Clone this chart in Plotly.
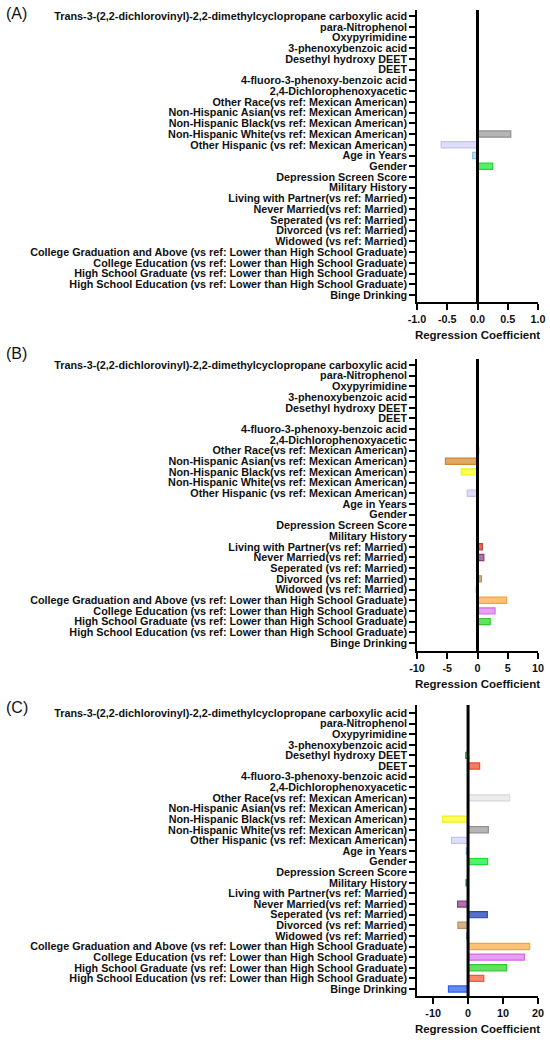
import plotly.graph_objects as go

# categories, top to bottom
categories = [
    "Trans-3-(2,2-dichlorovinyl)-2,2-dimethylcyclopropane carboxylic acid",
    "para-Nitrophenol",
    "Oxypyrimidine",
    "3-phenoxybenzoic acid",
    "Desethyl hydroxy DEET",
    "DEET",
    "4-fluoro-3-phenoxy-benzoic acid",
    "2,4-Dichlorophenoxyacetic",
    "Other Race(vs ref: Mexican American)",
    "Non-Hispanic Asian(vs ref: Mexican American)",
    "Non-Hispanic Black(vs ref: Mexican American)",
    "Non-Hispanic White(vs ref: Mexican American)",
    "Other Hispanic (vs ref: Mexican American)",
    "Age in Years",
    "Gender",
    "Depression Screen Score",
    "Military History",
    "Living with Partner(vs ref: Married)",
    "Never Married(vs ref: Married)",
    "Seperated (vs ref: Married)",
    "Divorced (vs ref: Married)",
    "Widowed (vs ref: Married)",
    "College Graduation and Above (vs ref: Lower than High School Graduate)",
    "College Education (vs ref: Lower than High School Graduate)",
    "High School Graduate (vs ref: Lower than High School Graduate)",
    "High School Education (vs ref: Lower than High School Graduate)",
    "Binge Drinking",
]

# regression coefficients per panel (None = no visible bar)
coef_a = [None, None, None, None, None, None, None, None, None, None, None,
          0.55, -0.6, -0.08, 0.25, None, None, None, None, None, None, None,
          None, None, None, None, None]
coef_b = [None, None, None, None, None, 0.15, None, None, 0.25, -5.3, -2.7,
          None, -1.7, None, None, None, None, 0.8, 1.05, None, 0.65, -0.2,
          4.8, 2.9, 2.1, None, None]
coef_c = [None, None, None, None, -0.7, 3.3, None, None, 11.9, None, -7.3,
          5.8, -4.7, -0.5, 5.6, None, -0.6, None, -3.0, 5.5, -2.9, -0.4,
          17.6, 16.1, 11.0, 4.5, -5.6]

x_ticks_a = [-1.0, -0.5, 0.0, 0.5, 1.0]
x_ticks_b = [-10, -5, 0, 5, 10]
x_ticks_c = [-10, 0, 10, 20]

# bar colours per category (fill, edge)
fills = ["#000000", "#000000", "#000000", "#000000", "#5fd97a", "#f77a62",
         "#000000", "#000000", "#ececec", "#e0a966", "#ffff55", "#b5b5b5",
         "#dedefb", "#b5dcf7", "#55f065", "#000000", "#4cc07e", "#e86a62",
         "#b070a8", "#5570c8", "#d4b486", "#bbbbbb", "#ffc274", "#e79ef3",
         "#62e262", "#ff8472", "#6188f3"]
edges = ["#000000", "#000000", "#000000", "#000000", "#2fb54a", "#ee4a2e",
         "#000000", "#000000", "#d8d8d8", "#c98436", "#eeee22", "#909090",
         "#c2c2f0", "#88c0ee", "#22d833", "#000000", "#229955", "#d23a30",
         "#8a3c82", "#2c48a6", "#b8925a", "#999999", "#f5a340", "#d46ae6",
         "#33c833", "#f5553a", "#3060e6"]

W, H = 550, 1042
L, R = 417, 12
plot_w = W - L - R

# (label, values, ticks, x range, y domain in px top/bottom, y range, tick format, label y px)
panels = [
    ("(A)", coef_a, x_ticks_a, [-1.0, 1.0], (10, 302), [26.65, -0.56], "{:.1f}", 3),
    ("(B)", coef_b, x_ticks_b, [-10, 10], (359, 651), [26.75, -0.56], "{}", 343),
    ("(C)", coef_c, x_ticks_c, [-14.6, 20], (705, 996), [26.66, -0.75], "{}", 697),
]

font_lbl = dict(family="Liberation Sans", size=10.8, color="#111111")

fig = go.Figure()
layout = {}
for i, (tag, vals, ticks, xr, px, yr, fmt, tag_y) in enumerate(panels):
    n = "" if i == 0 else str(i + 1)
    dom = [1 - px[1] / H, 1 - px[0] / H]
    fig.add_trace(go.Bar(
        x=vals, y=categories, orientation="h",
        marker=dict(color=fills, line=dict(color=edges, width=1.2)),
        width=0.58, xaxis="x" + n, yaxis="y" + n, showlegend=False,
    ))
    layout["xaxis" + n] = dict(
        domain=[0, 1], range=xr, anchor="y" + n,
        tickvals=ticks, ticktext=["<b>" + fmt.format(t) + "</b>" for t in ticks],
        ticks="outside", ticklen=6, tickwidth=1.5, tickcolor="black",
        showline=True, linecolor="black", linewidth=1.5,
        showgrid=False, zeroline=False, tickfont=font_lbl,
        title=dict(text="<b>Regression Coefficient</b>",
                   font=dict(family="Liberation Sans", size=11.5, color="#111111"),
                   standoff=7),
    )
    layout["yaxis" + n] = dict(
        domain=dom, range=yr, anchor="x" + n,
        type="category", categoryorder="array", categoryarray=categories,
        tickvals=categories, ticktext=["<b>" + c + "</b>" for c in categories],
        ticks="outside", ticklen=6, tickwidth=1.5, tickcolor="black",
        showline=True, linecolor="black", linewidth=1.5,
        showgrid=False, zeroline=False, tickfont=font_lbl,
    )
    # thick zero line
    fig.add_shape(type="line", xref="x" + n, yref="y" + n + " domain",
                  x0=0, x1=0, y0=0, y1=1, line=dict(color="black", width=3),
                  layer="above")
    fig.add_annotation(text=tag, xref="paper", yref="paper",
                       x=-(L - 4) / plot_w, y=1 - tag_y / H,
                       xanchor="left", yanchor="top", showarrow=False,
                       font=dict(family="Liberation Sans", size=16, color="#111111"))

fig.update_layout(
    **layout,
    width=W, height=H,
    margin=dict(l=L, r=R, t=0, b=0),
    plot_bgcolor="white", paper_bgcolor="white",
)

fig.write_html("out.html", config={"displayModeBar": False},
               post_script="document.body.style.margin='0';")
